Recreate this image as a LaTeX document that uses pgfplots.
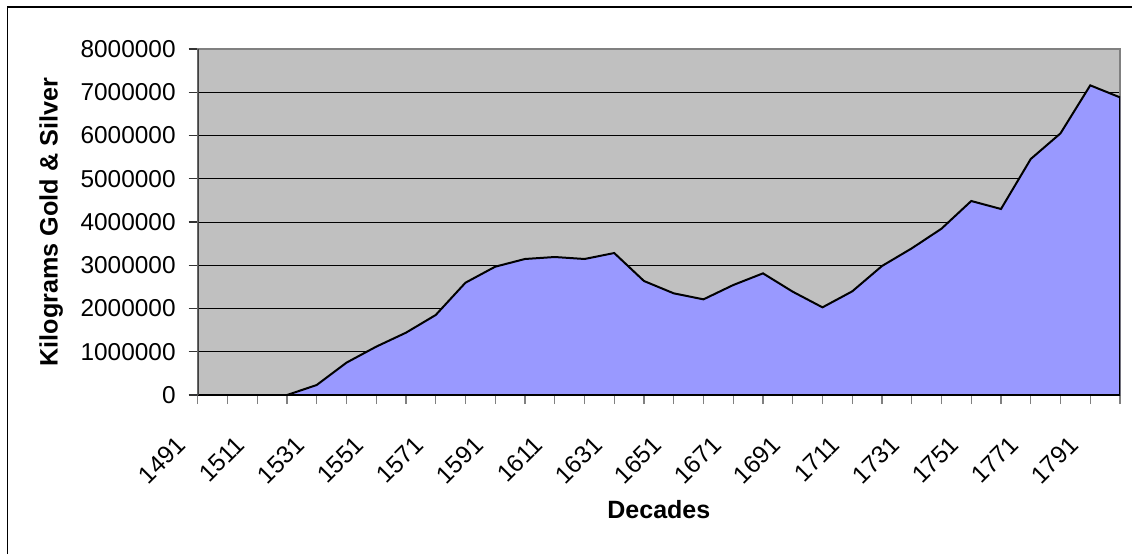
\documentclass[border=0pt]{standalone}
\usepackage{fontspec}
\setmainfont{Liberation Sans}
\usepackage{pgfplots}
\usepackage{pgfplotstable}
\pgfplotsset{compat=1.18}
\definecolor{plotbg}{HTML}{C0C0C0}
\definecolor{areafill}{HTML}{9999FF}
\definecolor{spine}{HTML}{808080}
\pgfplotstableread{
idx decade value
0 1491 0
1 1501 0
2 1511 0
3 1521 0
4 1531 231000
5 1541 748000
6 1551 1118000
7 1561 1441000
8 1571 1850000
9 1581 2597000
10 1591 2967000
11 1601 3145000
12 1611 3191000
13 1621 3145000
14 1631 3283000
15 1641 2636000
16 1651 2351000
17 1661 2212000
18 1671 2543000
19 1681 2813000
20 1691 2389000
21 1701 2027000
22 1711 2397000
23 1721 2983000
24 1731 3391000
25 1741 3846000
26 1751 4486000
27 1761 4301000
28 1771 5457000
29 1781 6050000
30 1791 7160000
31 1801 6882000
}\gold
\begin{document}
\begin{tikzpicture}
\path[use as bounding box] (0,0) rectangle (566pt,-277pt);
\draw[line width=0.75pt] (3.75pt,-277pt) -- (3.75pt,-3.6pt) -- (566pt,-3.6pt);
\begin{axis}[
  scale only axis, width=461.15pt, height=173pt,
  anchor=south west, at={(98.85pt,-197.5pt)},
  xmin=0, xmax=31, ymin=0, ymax=8000000,
  axis background/.style={fill=plotbg},
  axis line style={draw=spine, line width=0.6pt},
  xtick={0,...,31},
  xticklabels={1491,,1511,,1531,,1551,,1571,,1591,,1611,,1631,,1651,,1671,,1691,,1711,,1731,,1751,,1771,,1791,},
  ytick={0,1000000,2000000,3000000,4000000,5000000,6000000,7000000,8000000},
  tick pos=left, tick align=outside,
  major tick length=4.5pt,
  xtick style={draw=spine, line width=0.6pt},
  ytick style={draw=black!80, line width=0.6pt},
  ymajorgrids, grid style={draw=black, line width=0.5pt},
  scaled y ticks=false,
  /pgf/number format/assume math mode=true,
  yticklabel style={/pgf/number format/fixed, /pgf/number format/1000 sep={}, /pgf/number format/assume math mode=true,
    font=\fontsize{12.2}{15}\selectfont, anchor=east, inner sep=0pt, xshift=-6.35pt},
  xticklabel style={font=\fontsize{12.2}{15}\selectfont, inner sep=0pt, xshift=-11.3pt, yshift=-15pt, rotate=45, anchor=north east},
  xlabel={Decades}, ylabel={Kilograms Gold \& Silver},
  xlabel style={at={(axis description cs:0.5,-0.3324)}, anchor=center, font=\bfseries\fontsize{12.5}{15}\selectfont},
  ylabel style={at={(axis description cs:-0.159,0.5)}, anchor=center, font=\bfseries\fontsize{12.6}{15}\selectfont},
]
\addplot[fill=areafill, draw=black, line width=1pt] table[x=idx, y=value] {\gold} \closedcycle;
\draw[black!75, line width=1pt] (rel axis cs:0,0) -- (rel axis cs:0,1);
\end{axis}
\end{tikzpicture}
\end{document}
